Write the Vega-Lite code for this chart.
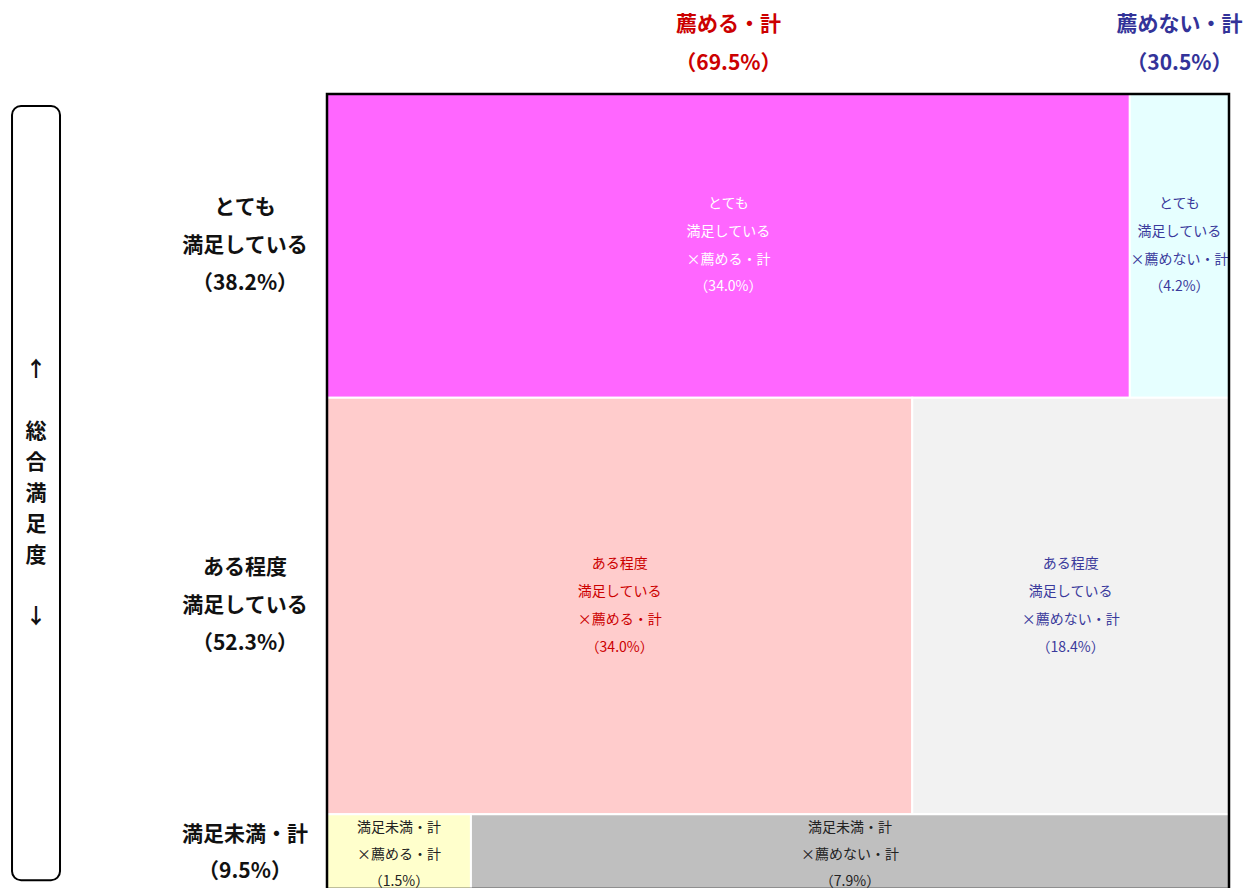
{
  "$schema": "https://vega.github.io/schema/vega-lite/v6.json",
  "width": 902,
  "height": 795,
  "autosize": {"type": "none"},
  "padding": {"left": 327, "top": 94, "right": 16, "bottom": 0},
  "background": "white",
  "config": {"view": {"stroke": null}, "font": "Noto Sans CJK JP"},
  "datasets": {
    "cells": [
      {"r": 1, "c": 1, "cell": "v1", "value": 34.0, "label": "とても\n満足している\n×薦める・計\n（34.0%）", "rowText": "とても\n満足している\n（38.2%）", "colText": "薦める・計\n（69.5%）"},
      {"r": 1, "c": 2, "cell": "v2", "value": 4.2, "label": "とても\n満足している\n×薦めない・計\n（4.2%）", "rowText": "とても\n満足している\n（38.2%）", "colText": "薦めない・計\n（30.5%）"},
      {"r": 2, "c": 1, "cell": "s1", "value": 34.0, "label": "ある程度\n満足している\n×薦める・計\n（34.0%）", "rowText": "ある程度\n満足している\n（52.3%）", "colText": "薦める・計\n（69.5%）"},
      {"r": 2, "c": 2, "cell": "s2", "value": 18.4, "label": "ある程度\n満足している\n×薦めない・計\n（18.4%）", "rowText": "ある程度\n満足している\n（52.3%）", "colText": "薦めない・計\n（30.5%）"},
      {"r": 3, "c": 1, "cell": "u1", "value": 1.5, "label": "満足未満・計\n×薦める・計\n（1.5%）", "rowText": "満足未満・計\n（9.5%）", "colText": "薦める・計\n（69.5%）"},
      {"r": 3, "c": 2, "cell": "u2", "value": 7.9, "label": "満足未満・計\n×薦めない・計\n（7.9%）", "rowText": "満足未満・計\n（9.5%）", "colText": "薦めない・計\n（30.5%）"}
    ]
  },
  "layer": [
    {
      "data": {"name": "cells"},
      "transform": [
        {"stack": "value", "groupby": ["r"], "sort": [{"field": "c", "order": "ascending"}], "as": ["x0", "x1"], "offset": "normalize"},
        {"stack": "value", "groupby": [], "sort": [{"field": "r", "order": "ascending"}, {"field": "c", "order": "ascending"}], "as": ["s0", "s1"]},
        {"joinaggregate": [{"op": "min", "field": "s0", "as": "y0"}, {"op": "max", "field": "s1", "as": "y1"}], "groupby": ["r"]},
        {"calculate": "(datum.x0 + datum.x1) / 2", "as": "xm"},
        {"calculate": "(datum.y0 + datum.y1) / 2", "as": "ym"}
      ],
      "resolve": {"scale": {"color": "independent"}},
      "layer": [
        {
          "mark": {"type": "rect", "stroke": "white", "strokeWidth": 2},
          "encoding": {
            "x": {"field": "x0", "type": "quantitative", "scale": {"domain": [0, 1], "nice": false, "zero": false}, "axis": null},
            "x2": {"field": "x1"},
            "y": {"field": "y0", "type": "quantitative", "scale": {"domain": [0, 100], "nice": false, "reverse": true}, "axis": null},
            "y2": {"field": "y1"},
            "color": {"field": "cell", "type": "nominal", "legend": null,
              "scale": {"domain": ["v1", "v2", "s1", "s2", "u1", "u2"], "range": ["#FF66FF", "#E6FFFF", "#FFCCCC", "#F2F2F2", "#FFFFCC", "#BFBFBF"]}}
          }
        },
        {
          "transform": [{"filter": "datum.r < 3"}],
          "mark": {"type": "text", "lineBreak": "\n", "fontSize": 14, "lineHeight": 27.7, "align": "center", "baseline": "middle", "dy": -41.5},
          "encoding": {
            "x": {"field": "xm", "type": "quantitative"},
            "y": {"field": "ym", "type": "quantitative"},
            "text": {"field": "label"},
            "color": {"field": "cell", "type": "nominal", "legend": null,
              "scale": {"domain": ["v1", "v2", "s1", "s2", "u1", "u2"], "range": ["#FFFFFF", "#3A3A9C", "#CC0000", "#3A3A9C", "#222222", "#222222"]}}
          }
        },
        {
          "transform": [{"filter": "datum.r == 3"}],
          "mark": {"type": "text", "lineBreak": "\n", "fontSize": 14, "lineHeight": 27, "align": "center", "baseline": "middle", "dy": -24},
          "encoding": {
            "x": {"field": "xm", "type": "quantitative"},
            "y": {"field": "ym", "type": "quantitative"},
            "text": {"field": "label"},
            "color": {"value": "#222222"}
          }
        },
        {
          "transform": [{"filter": "datum.c == 1 && datum.r < 3"}],
          "mark": {"type": "text", "lineBreak": "\n", "fontSize": 21, "fontWeight": "bold", "lineHeight": 38, "align": "center", "baseline": "middle", "color": "#111111", "dy": -38},
          "encoding": {
            "x": {"datum": -0.0909, "type": "quantitative"},
            "y": {"field": "ym", "type": "quantitative"},
            "text": {"field": "rowText"}
          }
        },
        {
          "transform": [{"filter": "datum.c == 1 && datum.r == 3"}],
          "mark": {"type": "text", "lineBreak": "\n", "fontSize": 21, "fontWeight": "bold", "lineHeight": 37, "align": "center", "baseline": "middle", "color": "#111111", "dy": -17},
          "encoding": {
            "x": {"datum": -0.0909, "type": "quantitative"},
            "y": {"field": "ym", "type": "quantitative"},
            "text": {"field": "rowText"}
          }
        },
        {
          "transform": [{"filter": "datum.r == 1"}],
          "mark": {"type": "text", "lineBreak": "\n", "fontSize": 21, "fontWeight": "bold", "lineHeight": 39, "align": "center", "baseline": "middle", "dy": -19.5},
          "encoding": {
            "x": {"field": "xm", "type": "quantitative"},
            "y": {"datum": -6.23, "type": "quantitative"},
            "text": {"field": "colText"},
            "color": {"field": "c", "type": "nominal", "legend": null,
              "scale": {"domain": [1, 2], "range": ["#CC0000", "#333399"]}}
          }
        }
      ]
    },
    {
      "data": {"values": [{}]},
      "mark": {"type": "rect", "filled": false, "stroke": "#000000", "strokeWidth": 2.5},
      "encoding": {
        "x": {"datum": 0, "type": "quantitative"},
        "x2": {"datum": 1},
        "y": {"datum": 0, "type": "quantitative"},
        "y2": {"datum": 100}
      }
    },
    {
      "data": {"values": [{}]},
      "mark": {"type": "rect", "filled": false, "stroke": "#000000", "strokeWidth": 2, "cornerRadius": 9},
      "encoding": {
        "x": {"datum": -0.3492, "type": "quantitative"},
        "x2": {"datum": -0.296},
        "y": {"datum": 1.51, "type": "quantitative"},
        "y2": {"datum": 98.9}
      }
    },
    {
      "data": {"values": [{"t": "↑"}]},
      "mark": {"type": "text", "fontSize": 21, "fontWeight": "bold", "align": "center", "baseline": "middle", "color": "#111111"},
      "encoding": {
        "x": {"datum": -0.3226, "type": "quantitative"},
        "y": {"datum": 34.7, "type": "quantitative"},
        "text": {"field": "t"}
      }
    },
    {
      "data": {"values": [{"t": "総\n合\n満\n足\n度"}]},
      "mark": {"type": "text", "lineBreak": "\n", "fontSize": 21, "fontWeight": "bold", "lineHeight": 31, "align": "center", "baseline": "middle", "color": "#111111", "dy": -62},
      "encoding": {
        "x": {"datum": -0.3226, "type": "quantitative"},
        "y": {"datum": 50.3, "type": "quantitative"},
        "text": {"field": "t"}
      }
    },
    {
      "data": {"values": [{"t": "↓"}]},
      "mark": {"type": "text", "fontSize": 21, "fontWeight": "bold", "align": "center", "baseline": "middle", "color": "#111111"},
      "encoding": {
        "x": {"datum": -0.3226, "type": "quantitative"},
        "y": {"datum": 65.8, "type": "quantitative"},
        "text": {"field": "t"}
      }
    }
  ]
}
